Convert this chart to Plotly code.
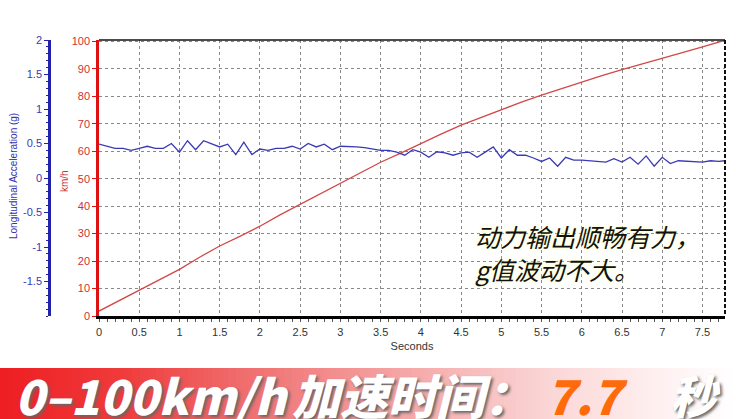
import plotly.graph_objects as go

# ---------------- data ----------------
accel_t = [0.0, 0.1, 0.2, 0.3, 0.4, 0.5, 0.6, 0.7, 0.8, 0.9,
           1.0, 1.1, 1.2, 1.3, 1.4, 1.5, 1.6, 1.7, 1.8, 1.9,
           2.0, 2.1, 2.2, 2.3, 2.4, 2.5, 2.6, 2.7, 2.8, 2.9,
           3.0, 3.1, 3.2, 3.3, 3.4, 3.5, 3.6, 3.7, 3.8, 3.9,
           4.0, 4.1, 4.2, 4.3, 4.4, 4.5, 4.6, 4.7, 4.8, 4.9,
           5.0, 5.1, 5.2, 5.3, 5.4, 5.5, 5.6, 5.7, 5.8, 5.9,
           6.0, 6.1, 6.2, 6.3, 6.4, 6.5, 6.6, 6.7, 6.8, 6.9,
           7.0, 7.1, 7.2, 7.3, 7.4, 7.5, 7.6, 7.7, 7.78]
accel_g = [0.49, 0.46, 0.43, 0.43, 0.40, 0.43, 0.46, 0.43, 0.43, 0.50,
           0.375, 0.54, 0.41, 0.54, 0.49, 0.45, 0.49, 0.34, 0.52, 0.34,
           0.42, 0.40, 0.43, 0.43, 0.46, 0.42, 0.50, 0.45, 0.49, 0.41,
           0.46, 0.46, 0.45, 0.44, 0.42, 0.40, 0.40, 0.375, 0.33, 0.41,
           0.375, 0.30, 0.38, 0.365, 0.33, 0.365, 0.375, 0.30, 0.375, 0.45,
           0.29, 0.41, 0.33, 0.33, 0.29, 0.24, 0.29, 0.17, 0.30, 0.26,
           0.26, 0.25, 0.23, 0.23, 0.28, 0.23, 0.30, 0.20, 0.32, 0.17,
           0.30, 0.21, 0.25, 0.24, 0.24, 0.23, 0.25, 0.24, 0.25]

speed_t = [0.0, 0.25, 0.5, 0.75, 1.0, 1.25, 1.5, 1.75, 2.0, 2.25, 2.5, 2.75,
           3.0, 3.25, 3.5, 3.75, 4.0, 4.25, 4.5, 4.75, 5.0, 5.25, 5.5, 5.75,
           6.0, 6.25, 6.5, 6.75, 7.0, 7.25, 7.5, 7.78]
speed_kmh = [1.8, 5.6, 9.5, 13.2, 17.0, 21.4, 25.5, 29.0, 32.7, 36.8, 40.7, 44.6,
             48.5, 52.3, 56.0, 59.3, 62.8, 66.2, 69.5, 72.3, 75.0, 77.9, 80.4, 82.8,
             85.2, 87.5, 89.7, 91.7, 93.7, 95.9, 98.0, 100.4]

x_ticks = [0, 0.5, 1, 1.5, 2, 2.5, 3, 3.5, 4, 4.5, 5, 5.5, 6, 6.5, 7, 7.5]
x_ticklabels = ["0", "0.5", "1", "1.5", "2", "2.5", "3", "3.5", "4", "4.5",
                "5", "5.5", "6", "6.5", "7", "7.5"]
kmh_ticks = [0, 10, 20, 30, 40, 50, 60, 70, 80, 90, 100]
g_ticks = [-1.5, -1, -0.5, 0, 0.5, 1, 1.5, 2]
g_ticklabels = ["-1.5", "-1", "-0.5", "0", "0.5", "1", "1.5", "2"]

# ---------------- layout helpers ----------------
W, H = 736, 419
def px(x): return x / W
def py(y): return 1 - y / H

BLUE = "#2222aa"
RED = "#dd1111"
TICKFONT = "Liberation Sans, Arial, sans-serif"

fig = go.Figure()
fig.add_trace(go.Scatter(x=speed_t, y=speed_kmh, mode="lines",
                         line=dict(color="#d24848", width=1.3),
                         yaxis="y", showlegend=False, hoverinfo="skip"))
fig.add_trace(go.Scatter(x=accel_t, y=accel_g, mode="lines",
                         line=dict(color="#3a3ab4", width=1.3),
                         yaxis="y2", showlegend=False, hoverinfo="skip"))

shapes = []
# banner gradient
stops = [(0, (238, 30, 34)), (120, (240, 58, 58)), (250, (240, 112, 112)),
         (400, (245, 165, 165)), (550, (251, 214, 214)), (660, (255, 240, 240)),
         (736, (255, 255, 255))]
def col_at(x):
    for (x0, c0), (x1, c1) in zip(stops[:-1], stops[1:]):
        if x0 <= x <= x1:
            f = (x - x0) / (x1 - x0)
            return "rgb(%d,%d,%d)" % tuple(round(a + (b - a) * f) for a, b in zip(c0, c1))
    return "rgb(255,255,255)"
step = 4
for x0 in range(0, W, step):
    shapes.append(dict(type="rect", xref="paper", yref="paper",
                       x0=px(x0), x1=px(x0 + step + 0.5), y0=py(419), y1=py(368),
                       fillcolor=col_at(x0 + step / 2), line=dict(width=0), layer="below"))
# plot frame: top solid, right dashed
shapes.append(dict(type="line", xref="paper", yref="paper", x0=px(99), x1=px(725),
                   y0=py(40), y1=py(40), line=dict(color="#111111", width=1.5)))
shapes.append(dict(type="line", xref="paper", yref="paper", x0=px(725), x1=px(725),
                   y0=py(40), y1=py(316), line=dict(color="#111111", width=2, dash="4px,2px")))

BANNER_FONT = "Noto Sans CJK SC"
WHITE_BANNER = dict(family=BANNER_FONT, size=48, color="#ffffff",
                    weight=900, style="italic", shadow="2px 2px 3px #666666")
annotations = [
    dict(text="Longitudinal Acceleration (g)", xref="paper", yref="paper",
         x=px(13), y=py(176), xanchor="center", yanchor="middle",
         textangle=-90, showarrow=False,
         font=dict(family=TICKFONT, size=10, color="#3333aa")),
    dict(text="km/h", xref="paper", yref="paper", x=px(64), y=py(181),
         xanchor="center", yanchor="middle",
         textangle=-90, showarrow=False,
         font=dict(family=TICKFONT, size=10, color="#cc3333")),
    dict(text="动力输出顺畅有力，<br>g值波动不大。", xref="paper", yref="paper",
         x=px(473), y=py(252), xanchor="left", yanchor="middle", align="left",
         showarrow=False,
         font=dict(family="Noto Sans CJK SC", size=25, color="#111111",
                   style="italic", shadow="0px 0px 4px #ffffb0")),
    dict(text="0–100km/h", xref="paper", yref="paper",
         x=px(13), y=py(394), xanchor="left", yanchor="middle", showarrow=False,
         font=WHITE_BANNER),
    dict(text="加速时间：", xref="paper", yref="paper",
         x=px(290), y=py(394), xanchor="left", yanchor="middle", showarrow=False,
         font=WHITE_BANNER),
    dict(text="7.7", xref="paper", yref="paper",
         x=px(544), y=py(394), xanchor="left", yanchor="middle", showarrow=False,
         font=dict(family=BANNER_FONT, size=48, color="#ff6a0a",
                   weight=900, style="italic")),
    dict(text="秒", xref="paper", yref="paper",
         x=px(668), y=py(394), xanchor="left", yanchor="middle", showarrow=False,
         font=dict(family=BANNER_FONT, size=46, color="#ffffff",
                   weight=900, style="italic", shadow="2px 2px 3px #666666")),
]

fig.update_layout(
    width=W, height=H,
    margin=dict(l=0, r=0, t=0, b=0, pad=0, autoexpand=False),
    paper_bgcolor="white", plot_bgcolor="white",
    showlegend=False,
    xaxis=dict(domain=[px(99), px(725)], range=[0, 7.78], automargin=False,
               tickvals=x_ticks, ticktext=x_ticklabels, ticklabelstandoff=4,
               tickfont=dict(family=TICKFONT, size=11, color="#333333"),
               showline=True, linecolor="#000000", linewidth=3,
               ticks="", showgrid=True, gridcolor="#888888", griddash="3px,3px",
               gridwidth=1, zeroline=False,
               minor=dict(dtick=0.1, ticks="outside", ticklen=3, tickcolor="#555555",
                          showgrid=False),
               title=dict(text="Seconds", font=dict(family=TICKFONT, size=11, color="#333333"),
                          standoff=6),
               fixedrange=True),
    yaxis=dict(domain=[py(316), py(40)], range=[0, 100.5], automargin=False,
               tickvals=kmh_ticks,
               tickfont=dict(family=TICKFONT, size=11, color="#cc3333"),
               showline=True, linecolor=RED, linewidth=2.5,
               ticks="outside", ticklen=4, tickcolor=RED,
               showgrid=True, gridcolor="#888888", griddash="3px,3px", gridwidth=1,
               zeroline=False, fixedrange=True),
    yaxis2=dict(overlaying="y", anchor="free", position=px(49), side="left",
                automargin=False,
                range=[-2, 2], tickvals=g_ticks, ticktext=g_ticklabels,
                tickfont=dict(family=TICKFONT, size=11, color="#3b3bb0"),
                showline=True, linecolor=BLUE, linewidth=2.5,
                ticks="outside", ticklen=4, tickcolor=BLUE,
                minor=dict(dtick=0.1, ticks="outside", ticklen=2, tickcolor=BLUE),
                showgrid=False, zeroline=False, fixedrange=True),
    shapes=shapes,
    annotations=annotations,
)

fig.write_html("out.html", config={"displayModeBar": False},
               post_script="document.body.style.margin='0';document.body.style.overflow='hidden';")
